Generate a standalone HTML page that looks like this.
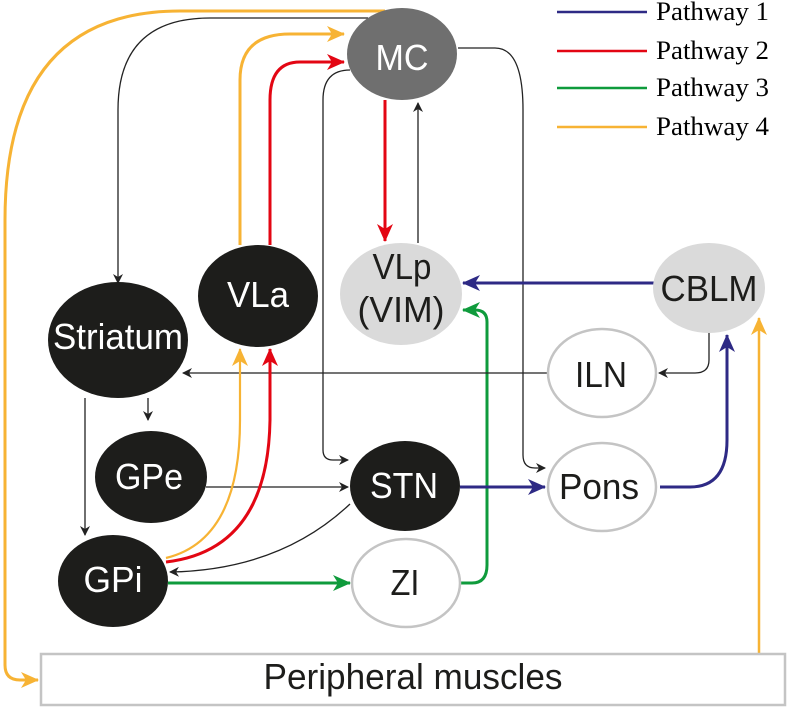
<!DOCTYPE html>
<html><head><meta charset="utf-8"><style>
html,body{margin:0;padding:0;background:#fff;}
svg{display:block;}
.n{font-family:"Liberation Sans",Arial,sans-serif;font-size:36px;text-anchor:middle;}
.l{font-family:"Liberation Serif","Times New Roman",serif;font-size:26px;}
</style></head><body>
<svg width="788" height="708" viewBox="0 0 788 708" xmlns="http://www.w3.org/2000/svg">
<defs>
<marker id="ak" markerWidth="10" markerHeight="10" refX="9" refY="5" orient="auto" markerUnits="userSpaceOnUse"><path d="M0,0 L10,5 L0,10 L3,5 z" fill="#222"/></marker>
<marker id="ay" markerWidth="18" markerHeight="16" refX="17" refY="8" orient="auto" markerUnits="userSpaceOnUse"><path d="M0,0 L18,8 L0,16 L5,8 z" fill="#f7b334"/></marker>
<marker id="ar" markerWidth="18" markerHeight="16" refX="17" refY="8" orient="auto" markerUnits="userSpaceOnUse"><path d="M0,0 L18,8 L0,16 L5,8 z" fill="#e30613"/></marker>
<marker id="ag" markerWidth="18" markerHeight="16" refX="17" refY="8" orient="auto" markerUnits="userSpaceOnUse"><path d="M0,0 L18,8 L0,16 L5,8 z" fill="#0f9b3c"/></marker>
<marker id="ab" markerWidth="18" markerHeight="16" refX="17" refY="8" orient="auto" markerUnits="userSpaceOnUse"><path d="M0,0 L18,8 L0,16 L5,8 z" fill="#2e2a85"/></marker>
</defs>

<line x1="557" y1="12" x2="647" y2="12" stroke="#2e2a85" stroke-width="2.5"/>
<line x1="557" y1="51" x2="647" y2="51" stroke="#e30613" stroke-width="2.5"/>
<line x1="557" y1="88" x2="647" y2="88" stroke="#0f9b3c" stroke-width="2.5"/>
<line x1="557" y1="127" x2="647" y2="127" stroke="#f7b334" stroke-width="2.5"/>
<text class="l" x="656" y="20" textLength="113" lengthAdjust="spacingAndGlyphs">Pathway 1</text>
<text class="l" x="656" y="59" textLength="113" lengthAdjust="spacingAndGlyphs">Pathway 2</text>
<text class="l" x="656" y="96" textLength="113" lengthAdjust="spacingAndGlyphs">Pathway 3</text>
<text class="l" x="656" y="135" textLength="113" lengthAdjust="spacingAndGlyphs">Pathway 4</text>

<g fill="none">
<path d="M385,11 L180,11 Q5,11 5,220 L5,665 Q5,680 20,680 L38,680" stroke="#f7b334" stroke-width="3" marker-end="url(#ay)"/>
<path d="M368,18 L210,18 Q118,18 118,110 L118,283" stroke="#222" stroke-width="1.3" marker-end="url(#ak)"/>
<path d="M240,245 L240,80 Q240,34 290,34 L344,34" stroke="#f7b334" stroke-width="3" marker-end="url(#ay)"/>
<path d="M270,245 L270,100 Q270,62 300,62 L344,62" stroke="#e30613" stroke-width="3" marker-end="url(#ar)"/>
<path d="M350,70 Q323,70 323,100 L323,450 Q323,460 333,460 L348,460" stroke="#222" stroke-width="1.3" marker-end="url(#ak)"/>
<path d="M385,100 L385,241" stroke="#e30613" stroke-width="3" marker-end="url(#ar)"/>
<path d="M418,243 L418,103" stroke="#222" stroke-width="1.3" marker-end="url(#ak)"/>
<path d="M458,48 L495,48 Q523,48 523,110 L523,455 Q523,468 535,468 L545,468" stroke="#222" stroke-width="1.3" marker-end="url(#ak)"/>
<path d="M655,283 L463,283" stroke="#2e2a85" stroke-width="3" marker-end="url(#ab)"/>
<path d="M460,583 L472,583 Q487,583 487,565 L487,322 Q487,310 475,310 L463,310" stroke="#0f9b3c" stroke-width="3" marker-end="url(#ag)"/>
<path d="M709,333 L709,360 Q709,373 695,373 L659,373" stroke="#222" stroke-width="1.3" marker-end="url(#ak)"/>
<path d="M547,373 L183,373" stroke="#222" stroke-width="1.3" marker-end="url(#ak)"/>
<path d="M148,398 L148,420" stroke="#222" stroke-width="1.3" marker-end="url(#ak)"/>
<path d="M85,398 L85,535" stroke="#222" stroke-width="1.3" marker-end="url(#ak)"/>
<path d="M206,487 L348,487" stroke="#222" stroke-width="1.3" marker-end="url(#ak)"/>
<path d="M350,504 Q280,570 170,572" stroke="#222" stroke-width="1.3" marker-end="url(#ak)"/>
<path d="M460,487 L545,487" stroke="#2e2a85" stroke-width="3" marker-end="url(#ab)"/>
<path d="M660,487 L690,487 Q727,487 727,440 L727,335" stroke="#2e2a85" stroke-width="3" marker-end="url(#ab)"/>
<path d="M759,653 L759,318" stroke="#f7b334" stroke-width="2.5" marker-end="url(#ay)"/>
<path d="M168,583 L350,583" stroke="#0f9b3c" stroke-width="3" marker-end="url(#ag)"/>
<path d="M166,558 Q240,540 240,420 L240,349" stroke="#f7b334" stroke-width="2.2" marker-end="url(#ay)"/>
<path d="M166,562 Q268,550 270,420 L270,349" stroke="#e30613" stroke-width="3" marker-end="url(#ar)"/>
</g>

<g lengthAdjust="spacingAndGlyphs">
<ellipse cx="402" cy="54" rx="55" ry="46" fill="#6f6f6f"/>
<text class="n" x="402" y="70" fill="#fff" textLength="53" lengthAdjust="spacingAndGlyphs">MC</text>
<ellipse cx="258" cy="296" rx="60" ry="51" fill="#1d1d1b"/>
<text class="n" x="258" y="307" fill="#fff" textLength="62" lengthAdjust="spacingAndGlyphs">VLa</text>
<ellipse cx="401" cy="294" rx="61" ry="51" fill="#dadada"/>
<text class="n" x="402" y="279" fill="#1d1d1b" textLength="59" lengthAdjust="spacingAndGlyphs">VLp</text>
<text class="n" x="401" y="322" fill="#1d1d1b" textLength="87" lengthAdjust="spacingAndGlyphs">(VIM)</text>
<ellipse cx="118" cy="340" rx="70" ry="58" fill="#1d1d1b"/>
<text class="n" x="118" y="349" fill="#fff" textLength="130" lengthAdjust="spacingAndGlyphs">Striatum</text>
<ellipse cx="709" cy="288" rx="56" ry="45" fill="#dadada"/>
<text class="n" x="709" y="301" fill="#1d1d1b" textLength="97" lengthAdjust="spacingAndGlyphs">CBLM</text>
<ellipse cx="602" cy="373" rx="54" ry="44" fill="#fff" stroke="#c4c4c4" stroke-width="2.5"/>
<text class="n" x="601" y="387" fill="#1d1d1b" textLength="52" lengthAdjust="spacingAndGlyphs">ILN</text>
<ellipse cx="151" cy="477" rx="56" ry="46" fill="#1d1d1b"/>
<text class="n" x="149" y="489" fill="#fff" textLength="68" lengthAdjust="spacingAndGlyphs">GPe</text>
<ellipse cx="113" cy="581" rx="55" ry="46" fill="#1d1d1b"/>
<text class="n" x="113" y="592" fill="#fff" textLength="59" lengthAdjust="spacingAndGlyphs">GPi</text>
<ellipse cx="405" cy="486" rx="55" ry="45" fill="#1d1d1b"/>
<text class="n" x="404" y="498" fill="#fff" textLength="68" lengthAdjust="spacingAndGlyphs">STN</text>
<ellipse cx="406" cy="583" rx="54" ry="44" fill="#fff" stroke="#c4c4c4" stroke-width="2.5"/>
<text class="n" x="405" y="595" fill="#1d1d1b" textLength="29" lengthAdjust="spacingAndGlyphs">ZI</text>
<ellipse cx="602" cy="487" rx="54" ry="44" fill="#fff" stroke="#c4c4c4" stroke-width="2.5"/>
<text class="n" x="599" y="499" fill="#1d1d1b" textLength="80" lengthAdjust="spacingAndGlyphs">Pons</text>
</g>

<rect x="41" y="654" width="744" height="51" fill="#fff" stroke="#c4c4c4" stroke-width="2.5"/>
<text class="n" x="413" y="689" fill="#1d1d1b" textLength="299" lengthAdjust="spacingAndGlyphs">Peripheral muscles</text>
</svg>
</body></html>
